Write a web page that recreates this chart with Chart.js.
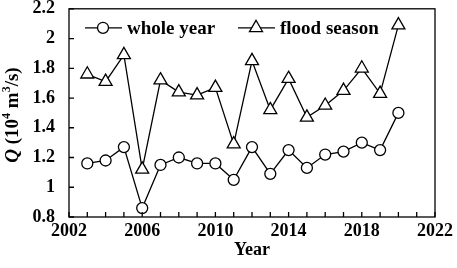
<!DOCTYPE html>
<html>
<head>
<meta charset="utf-8">
<script src="https://cdn.jsdelivr.net/npm/chart.js@4"></script>
<style>
  body { margin: 0; background: #fff; }
  #wrap { width: 457px; height: 268px; }
</style>
</head>
<body>
<div id="wrap"><canvas id="flowChart"></canvas></div>
<script>
const years = [2003, 2004, 2005, 2006, 2007, 2008, 2009, 2010, 2011, 2012, 2013, 2014, 2015, 2016, 2017, 2018, 2019, 2020];
const wholeYear = [1.16, 1.18, 1.27, 0.86, 1.15, 1.20, 1.16, 1.16, 1.05, 1.27, 1.09, 1.25, 1.13, 1.22, 1.24, 1.30, 1.25, 1.50];
const floodSeason = [1.76, 1.71, 1.89, 1.12, 1.72, 1.64, 1.62, 1.67, 1.29, 1.85, 1.52, 1.73, 1.47, 1.55, 1.65, 1.80, 1.63, 2.09];
const seriesNames = ["whole year", "flood season"];
const xTicks = [2002, 2006, 2010, 2014, 2018, 2022];
const yTicks = [0.8, 1, 1.2, 1.4, 1.6, 1.8, 2, 2.2];

const serif = "'Liberation Serif', 'Times New Roman', serif";

const toPoints = vals => years.map((yr, i) => ({ x: yr, y: vals[i] }));

// frame, inward ticks, legend and y title
const decor = {
    id: "decor",
    afterDraw(chart) {
        const { ctx, chartArea: a, scales } = chart;
        ctx.save();
        ctx.strokeStyle = "#000";
        ctx.lineWidth = 1.3;
        ctx.strokeRect(a.left, a.top, a.right - a.left, a.bottom - a.top);

        ctx.beginPath();
        for (let yr = xTicks[0]; yr <= xTicks[xTicks.length - 1]; yr++) {
            const px = scales.x.getPixelForValue(yr);
            ctx.moveTo(px, a.bottom);
            ctx.lineTo(px, a.bottom - 5);
        }
        yTicks.forEach(v => {
            const py = scales.y.getPixelForValue(v);
            ctx.moveTo(a.left, py);
            ctx.lineTo(a.left + 5, py);
        });
        ctx.stroke();

        // legend
        const ly = a.top + 19;
        const items = [
            { x: 85, ds: chart.data.datasets[0] },
            { x: 238, ds: chart.data.datasets[1] }
        ];
        ctx.font = "bold 19px " + serif;
        ctx.textBaseline = "middle";
        ctx.fillStyle = "#000";
        items.forEach(it => {
            ctx.beginPath();
            ctx.moveTo(it.x, ly);
            ctx.lineTo(it.x + 37, ly);
            ctx.lineWidth = 1.3;
            ctx.stroke();
            ctx.fillStyle = "#fff";
            Chart.helpers.drawPoint(ctx, {
                pointStyle: it.ds.pointStyle,
                radius: it.ds.pointRadius,
                borderWidth: 1.3
            }, it.x + 18, ly);
            ctx.fillStyle = "#000";
            ctx.textAlign = "left";
            ctx.fillText(it.ds.label, it.x + 42, ly + 1);
        });

        // y axis title: Q (10^4 m^3/s)
        ctx.translate(13, 115);
        ctx.rotate(-Math.PI / 2);
        const parts = [
            { t: "Q", f: "italic bold 19px " + serif, dy: 0 },
            { t: " (10", f: "bold 19px " + serif, dy: 0 },
            { t: "4", f: "bold 12px " + serif, dy: -6 },
            { t: " m", f: "bold 19px " + serif, dy: 0 },
            { t: "3", f: "bold 12px " + serif, dy: -6 },
            { t: "/s)", f: "bold 19px " + serif, dy: 0 }
        ];
        let total = 0;
        parts.forEach(p => { ctx.font = p.f; total += ctx.measureText(p.t).width; });
        let cx = -total / 2;
        ctx.textAlign = "left";
        parts.forEach(p => {
            ctx.font = p.f;
            ctx.fillText(p.t, cx, p.dy);
            cx += ctx.measureText(p.t).width;
        });
        ctx.restore();
    }
};

new Chart(document.getElementById("flowChart"), {
    type: "line",
    data: {
        datasets: [
            {
                label: seriesNames[0],
                data: toPoints(wholeYear),
                borderColor: "#000",
                borderWidth: 1.3,
                backgroundColor: "#fff",
                pointStyle: "circle",
                pointRadius: 5.5,
                pointBorderWidth: 1.3,
                pointBackgroundColor: "#fff",
                pointBorderColor: "#000",
                tension: 0
            },
            {
                label: seriesNames[1],
                data: toPoints(floodSeason),
                borderColor: "#000",
                borderWidth: 1.3,
                backgroundColor: "#fff",
                pointStyle: "triangle",
                pointRadius: 7.5,
                pointBorderWidth: 1.3,
                pointBackgroundColor: "#fff",
                pointBorderColor: "#000",
                tension: 0
            }
        ]
    },
    options: {
        responsive: true,
        maintainAspectRatio: false,
        animation: false,
        layout: { padding: { top: 7, right: 22, left: 0, bottom: 0 } },
        plugins: {
            legend: { display: false },
            tooltip: { enabled: false }
        },
        scales: {
            x: {
                type: "linear",
                min: xTicks[0],
                max: xTicks[xTicks.length - 1],
                afterBuildTicks: s => { s.ticks = xTicks.map(v => ({ value: v })); },
                grid: { display: false },
                border: { display: false },
                ticks: {
                    color: "#000",
                    font: { family: serif, size: 18, weight: "bold" },
                    padding: -4,
                    maxRotation: 0,
                    callback: v => String(v)
                },
                title: {
                    display: true,
                    text: "Year",
                    color: "#000",
                    font: { family: serif, size: 18, weight: "bold" },
                    padding: { top: 0, bottom: 7 }
                },
                afterFit: s => { s.height = 51; }
            },
            y: {
                min: yTicks[0],
                max: yTicks[yTicks.length - 1],
                afterBuildTicks: s => { s.ticks = yTicks.map(v => ({ value: v })); },
                grid: { display: false },
                border: { display: false },
                ticks: {
                    color: "#000",
                    // small lineHeight keeps the top/bottom label padding from shrinking the plot
                    font: { family: serif, size: 18, weight: "bold", lineHeight: 0.1 },
                    padding: 6,
                    callback: v => String(+v.toFixed(1))
                },
                afterFit: s => { s.width = 69; }
            }
        }
    },
    plugins: [decor]
});
</script>
</body>
</html>
